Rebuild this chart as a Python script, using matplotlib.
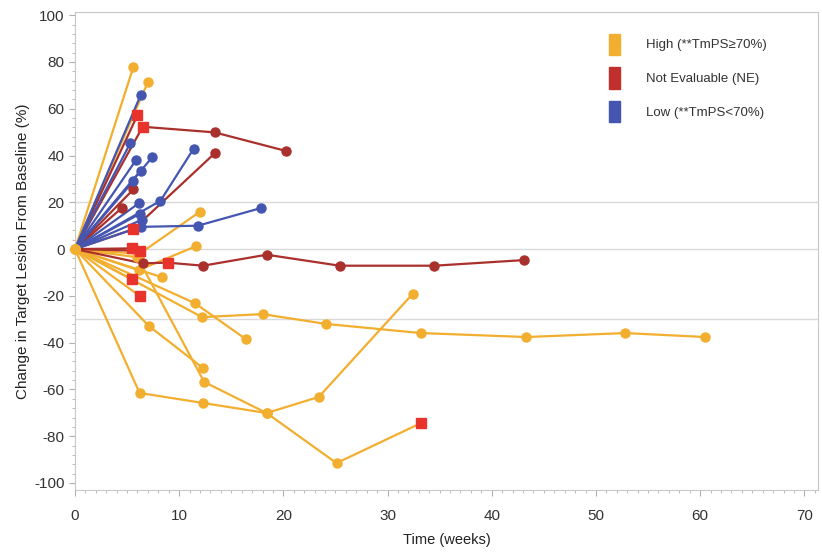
import matplotlib
matplotlib.use("Agg")
from matplotlib import pyplot as plt
from matplotlib.patches import Patch
from matplotlib.ticker import MultipleLocator

plt.rcParams['font.family'] = ['Liberation Sans', 'DejaVu Sans']
plt.rcParams['axes.unicode_minus'] = False

# High (**TmPS>=70%) patients: weeks / % change
high_x = [[0, 5.6], [0, 7.0], [0, 6.2, 12.0], [0, 6.1, 11.6], [0, 8.4], [0, 5.5], [0, 6.2],
          [0, 11.5, 16.4], [0, 12.2, 18.0, 24.1, 33.2, 43.3, 52.8, 60.5], [0, 7.1, 12.3],
          [0, 6.2, 12.3, 18.4, 23.4, 32.4], [0, 6.0, 12.4, 18.4, 25.1, 33.2]]
high_y = [[0, 77.8], [0, 71.4], [0, -2.0, 16.0], [0, -9.0, 1.2], [0, -12.1], [0, -13.0], [0, -20.0],
          [0, -23.1, -38.5], [0, -29.1, -27.8, -32.0, -35.9, -37.6, -35.9, -37.6], [0, -32.9, -50.9],
          [0, -61.5, -65.8, -70.1, -63.2, -19.2], [0, -3.5, -56.8, -70.1, -91.5, -74.4]]

# Not Evaluable (NE)
ne_x = [[0, 6.0], [0, 6.5, 13.4, 20.3], [0, 5.6, 13.4], [0, 5.6], [0, 4.5], [0, 5.5], [0, 6.2],
        [0, 6.5, 8.9, 12.3, 18.4, 25.4, 34.5, 43.1]]
ne_y = [[0, 57.3], [0, 52.3, 49.9, 41.9], [0, 8.5, 40.9], [0, 25.5], [0, 17.6], [0, 0.3], [0, -0.7],
        [0, -6.1, -5.8, -7.1, -2.4, -7.1, -7.1, -4.7]]

# Low (**TmPS<70%)
low_x = [[0, 6.3], [0, 5.3], [0, 5.85], [0, 6.3], [0, 5.6], [0, 7.4], [0, 8.2, 11.4],
         [0, 6.1], [0, 6.2], [0, 6.4], [0, 6.3, 11.8, 17.9]]
low_y = [[0, 65.8], [0, 45.2], [0, 38.0], [0, 33.5], [0, 29.0], [0, 39.2], [0, 20.6, 43.0],
         [0, 19.5], [0, 15.0], [0, 12.5], [0, 9.5, 10.0, 17.6]]

# visits shown with a square marker
sq_x = [6.0, 6.5, 5.6, 5.5, 6.2, 8.9, 5.5, 6.2, 33.2]
sq_y = [57.3, 52.3, 8.5, 0.3, -0.7, -5.8, -13.0, -20.0, -74.4]

groups = ['High (**TmPS\u226570%)', 'Not Evaluable (NE)', 'Low (**TmPS<70%)']
yellow = '#F2AE2E'
red = '#A9302C'
blue = '#4456B0'

fig = plt.figure(figsize=(8.22, 5.52), dpi=100)
ax = fig.add_axes([0.0912, 0.1123, 0.9038, 0.8657])

for y0 in [20, 0, -30]:
    ax.axhline(y0, color='#d9d9d9', lw=1, zorder=0)

for xs, ys, c in [(high_x, high_y, yellow), (ne_x, ne_y, red), (low_x, low_y, blue)]:
    for x, y in zip(xs, ys):
        ax.plot(x[1:], y[1:], 'o', color=c, ms=6.5, zorder=3, clip_on=False)
        ax.plot(x, y, '-', color=c, lw=1.6, zorder=2, solid_capstyle='round')

ax.plot(sq_x, sq_y, 's', color='#E8322C', ms=6.5, zorder=4)
ax.plot([0], [0], 'o', color=yellow, ms=7, zorder=5, clip_on=False)

ax.set_xlim(0, 71.3)
ax.set_ylim(-103, 101.3)
ax.xaxis.set_major_locator(MultipleLocator(10))
ax.xaxis.set_minor_locator(MultipleLocator(1))
ax.yaxis.set_major_locator(MultipleLocator(20))
ax.yaxis.set_minor_locator(MultipleLocator(4))
for s in ax.spines.values():
    s.set_color('#c8c8c8')
ax.tick_params(which='both', colors='#b0b0b0', labelcolor='#333333', labelsize=11)
ax.tick_params(which='major', length=4)
ax.tick_params(which='minor', length=2.5)
ax.tick_params(axis='x', pad=10)

ax.set_xlabel('Time (weeks)', fontsize=10.5, color='#222222', labelpad=7)
ax.set_ylabel('Change in Target Lesion From Baseline (%)', fontsize=11, color='#222222', labelpad=3)

handles = [Patch(facecolor=c, edgecolor=c) for c in [yellow, '#C0312E', blue]]
ax.legend(handles, groups, loc='upper left', bbox_to_anchor=(0.703, 0.98), frameon=False,
          handlelength=0.8, handleheight=2.1, labelspacing=0.95, handletextpad=2.0,
          fontsize=9.5, labelcolor='#333333')

plt.savefig('out.png', dpi=100)
